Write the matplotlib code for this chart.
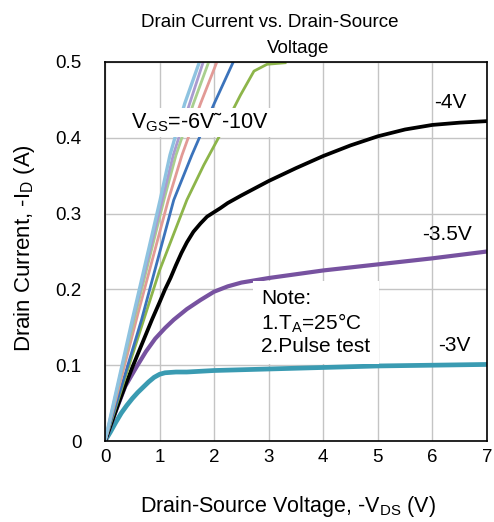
import matplotlib
matplotlib.use("Agg")
import matplotlib.pyplot as plt

plt.rcParams['font.family'] = ['Liberation Sans', 'DejaVu Sans']
plt.rcParams['mathtext.fontset'] = 'custom'
plt.rcParams['mathtext.rm'] = 'Liberation Sans'

# -VDS (V) / -ID (A)
vds_3v = [0, 0.1, 0.2, 0.3, 0.4, 0.5, 0.6, 0.7, 0.8, 0.9, 1.0, 1.1, 1.3, 1.5, 2, 3, 4, 5, 6, 7]
id_3v = [0, 0.012, 0.025, 0.037, 0.047, 0.056, 0.064, 0.071, 0.078, 0.084, 0.088, 0.090, 0.091, 0.091,
         0.093, 0.095, 0.097, 0.099, 0.100, 0.101]

vds_35v = [0, 0.2, 0.37, 0.58, 0.75, 0.92, 1.1, 1.26, 1.5, 1.75, 2.0, 2.25, 2.5, 3, 4, 5, 6, 7]
id_35v = [0, 0.04, 0.072, 0.098, 0.118, 0.135, 0.149, 0.160, 0.174, 0.186, 0.197, 0.204, 0.209,
          0.215, 0.225, 0.233, 0.241, 0.250]

vds_4v = [0, 0.25, 0.5, 0.86, 1.0, 1.1, 1.2, 1.3, 1.4, 1.5, 1.62, 1.75, 1.87, 2.0, 2.11, 2.25, 2.5,
          3, 3.5, 4, 4.5, 5, 5.5, 6, 6.5, 7]
id_4v = [0, 0.05, 0.097, 0.160, 0.183, 0.200, 0.215, 0.232, 0.248, 0.262, 0.276, 0.287, 0.296, 0.302,
         0.307, 0.314, 0.324, 0.343, 0.360, 0.376, 0.390, 0.402, 0.411, 0.417, 0.420, 0.422]

vds_5v = [0, 0.5, 1.0, 1.5, 1.81, 2.14, 2.48, 2.73, 2.97, 3.3]
id_5v = [0, 0.113, 0.225, 0.318, 0.364, 0.408, 0.456, 0.488, 0.497, 0.499]

vds_6v = [0, 0.67, 1.26, 1.59, 2.0, 2.35]
id_6v = [0, 0.160, 0.318, 0.377, 0.445, 0.500]

vds_7v = [0, 0.6, 1.16, 1.41, 1.75, 2.05]
id_7v = [0, 0.167, 0.318, 0.377, 0.445, 0.500]

vds_8v = [0, 0.55, 1.08, 1.30, 1.62, 1.90]
id_8v = [0, 0.165, 0.318, 0.377, 0.445, 0.500]

vds_9v = [0, 0.52, 1.05, 1.25, 1.55, 1.80]
id_9v = [0, 0.162, 0.318, 0.377, 0.445, 0.500]

vds_10v = [0, 0.5, 1.01, 1.19, 1.46, 1.73]
id_10v = [0, 0.160, 0.318, 0.377, 0.445, 0.500]

fig = plt.figure(figsize=(4.94, 5.22), dpi=100)
ax = fig.add_axes([105 / 494, 81 / 522, 382 / 494, 379 / 522])

ax.plot(vds_3v, id_3v, color='#3a9bb2', lw=3.4, solid_capstyle='round', solid_joinstyle='round')
ax.plot(vds_35v, id_35v, color='#7752a0', lw=3.0, solid_capstyle='round', solid_joinstyle='round')
ax.plot(vds_4v, id_4v, color='black', lw=2.7, solid_capstyle='round', solid_joinstyle='round')
ax.plot(vds_5v, id_5v, color='#8db54a', lw=2.0)
ax.plot(vds_6v, id_6v, color='#3b73bb', lw=2.0)
ax.plot(vds_7v, id_7v, color='#e29a96', lw=2.0)
ax.plot(vds_8v, id_8v, color='#a9cf8e', lw=2.0)
ax.plot(vds_9v, id_9v, color='#a99bd0', lw=2.0)
ax.plot(vds_10v, id_10v, color='#8ec3e0', lw=2.4)

ax.set_xlim(0, 7)
ax.set_ylim(0, 0.5)
ax.set_xticks(range(8))
ax.set_yticks([0, 0.1, 0.2, 0.3, 0.4, 0.5])
ax.set_yticklabels(['0', '0.1', '0.2', '0.3', '0.4', '0.5'])
ax.tick_params(axis='both', length=0, labelsize=13.5)
ax.tick_params(axis='x', pad=6)
ax.tick_params(axis='y', pad=17)
ax.grid(True, color='#c4c4c4', lw=1.0)
ax.set_axisbelow(True)
for sp in ax.spines.values():
    sp.set_color('black')
    sp.set_linewidth(1.2)

ax.set_xlabel(r'Drain-Source Voltage, -V$_{\mathrm{DS}}$ (V)', fontsize=15.5)
ax.xaxis.set_label_coords(0.48, -0.14)
ax.set_ylabel(r'Drain Current, -I$_{\mathrm{D}}$ (A)', fontsize=16)
ax.yaxis.set_label_coords(-0.179, 0.51)

fig.text(270 / 494, 1 - 27 / 522, 'Drain Current vs. Drain-Source', ha='center', va='baseline', fontsize=13.5)
fig.text(298 / 494, 1 - 53 / 522, 'Voltage', ha='center', va='baseline', fontsize=13.5)

white = dict(facecolor='white', edgecolor='none', pad=2)
ax.text(0.47, 0.42, r'V$_{\mathrm{GS}}$=-6V˜-10V', fontsize=15.5, ha='left', va='center', bbox=white)
ax.text(6.32, 0.447, '-4V', fontsize=15, ha='center', va='center')
ax.text(6.26, 0.272, '-3.5V', fontsize=15, ha='center', va='center')
ax.text(6.40, 0.126, '-3V', fontsize=15, ha='center', va='center')
ax.text(2.86, 0.156, 'Note:\n' + r'1.T$_{\mathrm{A}}$=25°C' + '\n2.Pulse test', fontsize=15,
        ha='left', va='center', linespacing=1.15,
        bbox=dict(facecolor='white', edgecolor='none', pad=6))

fig.savefig('out.png', dpi=100)
